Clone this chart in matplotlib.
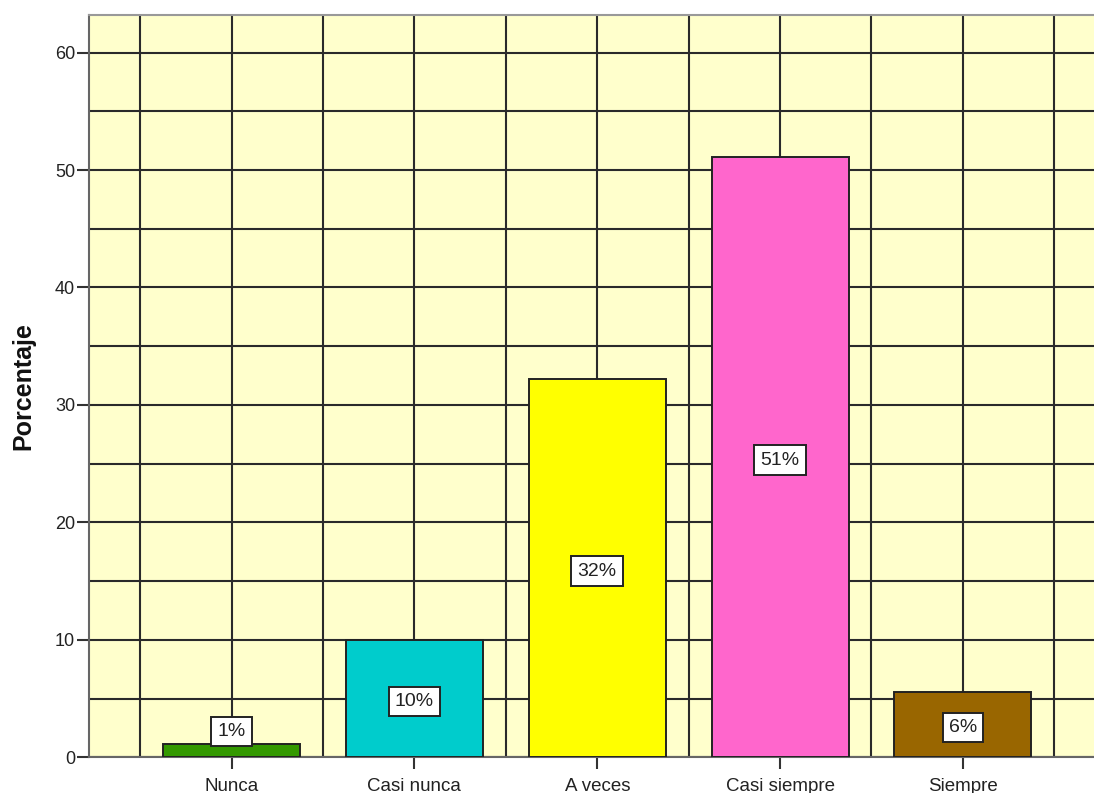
import matplotlib
matplotlib.use("Agg")
import matplotlib.pyplot as plt
import numpy as np

# data
categories = ["Nunca", "Casi nunca", "A veces", "Casi siempre", "Siempre"]
percentages = [1.1, 10.0, 32.2, 51.1, 5.6]
bar_labels = ["1%", "10%", "32%", "51%", "6%"]
bar_colors = ["#339900", "#00CCCC", "#FFFF00", "#FF66CC", "#996600"]
y_ticks = [0, 10, 20, 30, 40, 50, 60]

plt.rcParams["font.family"] = ["Liberation Sans", "DejaVu Sans"]

W, H = 1094, 793
fig = plt.figure(figsize=(W / 100, H / 100), dpi=100)
ax = fig.add_axes([89 / W, (H - 757.3) / H, (W - 89) / W, (757.3 - 15) / H])
ax.set_facecolor("#FFFFCC")

x = np.arange(len(categories))
ax.bar(x, percentages, width=0.75, color=bar_colors, edgecolor="#222222",
       linewidth=1.4, zorder=3)

# value labels in white boxes, roughly at mid-height of each bar
for xi, v, lab in zip(x, percentages, bar_labels):
    ax.text(xi, max(v / 2 - 0.25, 2.2), lab, ha="center", va="center",
            fontsize=14, color="#222222", zorder=5,
            bbox=dict(boxstyle="square,pad=0.32", facecolor="white",
                      edgecolor="#222222", linewidth=1.4))

ax.set_xlim(-0.78, 4.717)
ax.set_ylim(0, 63.2)

ax.set_xticks(x)
ax.set_xticklabels(categories, fontsize=13.5, color="#222222")
ax.set_xticks(np.arange(-0.5, 5, 1.0), minor=True)
ax.set_yticks(y_ticks)
ax.set_yticklabels([str(t) for t in y_ticks], fontsize=13, color="#222222")
ax.set_yticks(np.arange(5, 63, 10), minor=True)

ax.tick_params(axis="both", which="major", length=8.6, width=1.5,
               color="#333333", direction="out")
ax.tick_params(axis="x", which="major", pad=6)
ax.tick_params(axis="y", which="major", pad=1.5)
ax.tick_params(axis="both", which="minor", length=0)

ax.set_axisbelow(True)
ax.grid(True, which="both", color="#2a2a2a", linewidth=1.5, zorder=0)

for side in ["left", "bottom", "top"]:
    ax.spines[side].set_color("#666666")
    ax.spines[side].set_linewidth(1.5)
ax.spines["top"].set_color("#999999")
ax.spines["right"].set_visible(False)

fig.text(23 / W, 1 - 386 / H, "Porcentaje", rotation=90, ha="center",
         va="center", fontsize=18, fontweight="bold", color="#111111")

fig.savefig("out.png", dpi=100, facecolor="white")
